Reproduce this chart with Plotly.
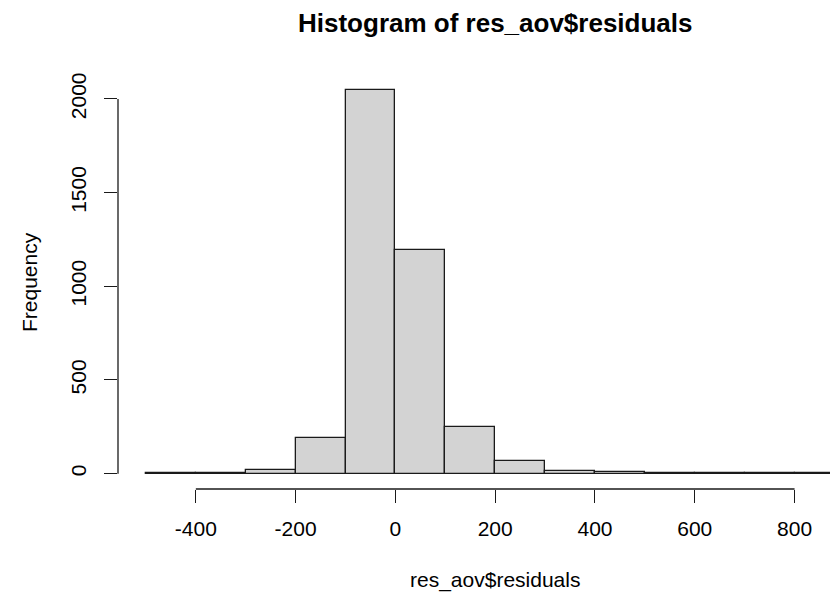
import plotly.graph_objects as go

# ---- data ----
bin_left = [-500, -400, -300, -200, -100, 0, 100, 200, 300, 400, 500, 600, 700, 800]
bin_width = 100
counts = [1, 1, 20, 190, 2046, 1192, 248, 66, 16, 8, 2, 1, 1, 2]
x_ticks = [-400, -200, 0, 200, 400, 600, 800]
y_ticks = [0, 500, 1000, 1500, 2000]

title_text = "Histogram of res_aov$residuals"
x_title = "res_aov$residuals"
y_title = "Frequency"

FONT = "Liberation Sans, Arial, Helvetica, sans-serif"

x_lo = bin_left[0]
x_hi = bin_left[-1] + bin_width
x_pad = 0.04 * (x_hi - x_lo)
ymax = max(counts)

W, H = 830, 598
ML, MR, MT, MB = 118, 0, 74.5, 109.4
plot_w = W - ML - MR
plot_h = H - MT - MB
x_left = x_lo - x_pad
# image is cropped on the right, so the visible range ends before the R plot region ends
px_per_unit = (plot_w + 42.4) / ((x_hi + x_pad) - x_left)
x_right = x_left + plot_w / px_per_unit

fig = go.Figure()
fig.add_trace(go.Bar(
    x=[l + bin_width / 2 for l in bin_left],
    y=counts,
    width=bin_width,
    marker=dict(color="#D3D3D3", line=dict(color="#1a1a1a", width=1.3)),
    hoverinfo="x+y",
))

fig.update_layout(
    width=W, height=H,
    margin=dict(l=ML, r=MR, t=MT, b=MB, pad=0),
    paper_bgcolor="white", plot_bgcolor="white",
    font=dict(family=FONT, size=21, color="black"),
    showlegend=False,
    bargap=0,
    xaxis=dict(
        range=[x_left, x_right], tickvals=x_ticks, ticktext=[str(v) for v in x_ticks],
        ticks="outside", ticklen=13, tickwidth=1.3, tickcolor="#1a1a1a",
        showgrid=False, zeroline=False, showline=False,
        tickfont=dict(size=21, family=FONT, color="black"),
        ticklabelstandoff=8,
    ),
    yaxis=dict(
        range=[-0.04 * ymax, 1.04 * ymax], tickvals=y_ticks, ticktext=[str(v) for v in y_ticks],
        ticks="outside", ticklen=13, tickwidth=1.3, tickcolor="#1a1a1a",
        showgrid=False, zeroline=False, showline=False,
        tickangle=-90,
        tickfont=dict(size=21, family=FONT, color="black"),
        ticklabelstandoff=10,
    ),
    shapes=[
        dict(type="line", xref="x", yref="paper", x0=x_ticks[0], x1=x_ticks[-1], y0=0, y1=0,
             line=dict(color="#1a1a1a", width=1.3)),
        dict(type="line", xref="paper", yref="y", x0=0, x1=0, y0=y_ticks[0], y1=y_ticks[-1],
             line=dict(color="#1a1a1a", width=1.3)),
    ],
)

# title centred over the (uncropped) R plot region
title_cx = (plot_w + 42.4) / 2 / plot_w
fig.add_annotation(
    text="<b>" + title_text + "</b>", xref="paper", yref="paper",
    x=title_cx, y=1 + (MT - 22) / plot_h, xanchor="center", yanchor="middle",
    showarrow=False, font=dict(family=FONT, size=26, color="black"),
)
fig.add_annotation(
    text=x_title, xref="paper", yref="paper",
    x=title_cx, y=-(580 - (H - MB)) / plot_h, xanchor="center", yanchor="middle",
    showarrow=False, font=dict(family=FONT, size=21, color="black"),
)
fig.add_annotation(
    text=y_title, xref="paper", yref="paper",
    x=-(ML - 29) / plot_w, y=0.5, xanchor="center", yanchor="middle", textangle=-90,
    showarrow=False, font=dict(family=FONT, size=21, color="black"),
)

fig.write_html("out.html")
